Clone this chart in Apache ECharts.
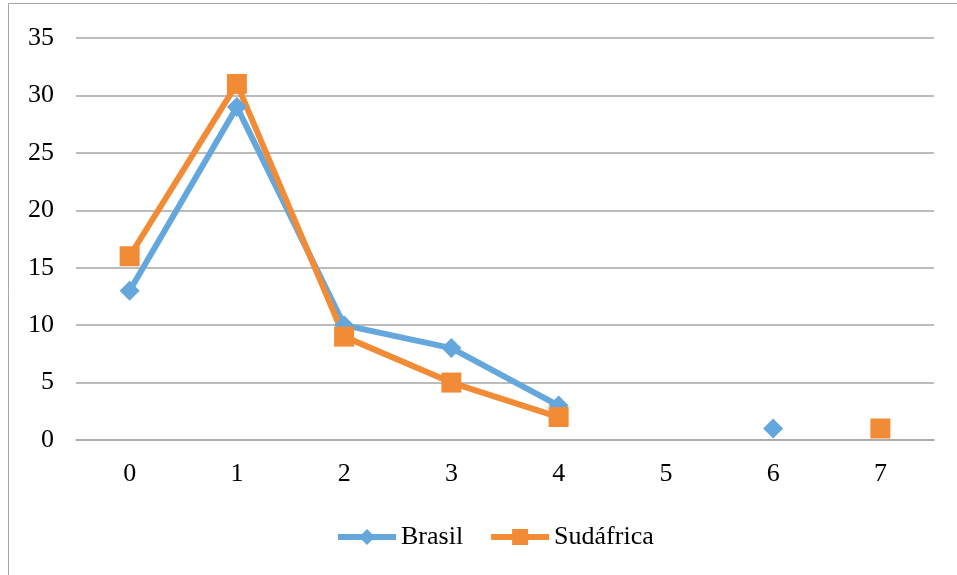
<!DOCTYPE html>
<html><head><meta charset="utf-8">
<script src="https://cdn.jsdelivr.net/npm/echarts@6/dist/echarts.min.js"></script>
<style>html,body{margin:0;padding:0;background:#fff}#c{width:957px;height:575px}</style>
</head><body><div id="c"></div>
<script>
const categories = ['0','1','2','3','4','5','6','7'];
const brasil = [13, 29, 10, 8, 3, null, 1, null];
const sudafrica = [16, 31, 9, 5, 2, null, null, 1];
const seriesNames = ['Brasil', 'Sudáfrica'];

const chart = echarts.init(document.getElementById('c'));
const font = '"Liberation Serif", "Times New Roman", serif';
chart.setOption({
  animation: false,
  graphic: [{type:'rect', shape:{x:8.5,y:3.5,width:1000,height:700}, style:{fill:'none', stroke:'#a6a6a6', lineWidth:1}}],
  grid: {left: 76, right: 23, top: 38, bottom: 135},
  legend: {
    bottom: 20, left: 330, itemWidth: 58, itemHeight: 20, itemGap: 25,
    textStyle: {fontFamily: font, fontSize: 26, color: '#000'},
    lineStyle: {width: 6},
    data: seriesNames
  },
  xAxis: {
    type: 'category', data: categories, boundaryGap: true,
    axisLine: {lineStyle: {color: '#a6a6a6', width: 1.5}},
    axisTick: {show: false},
    axisLabel: {fontFamily: font, fontSize: 26, color: '#000', margin: 21}
  },
  yAxis: {
    type: 'value', min: 0, max: 35, interval: 5,
    axisLine: {show: false}, axisTick: {show: false},
    splitLine: {lineStyle: {color: '#a6a6a6', width: 1.5}},
    axisLabel: {fontFamily: font, fontSize: 26, color: '#000', margin: 22}
  },
  series: [
    {name: seriesNames[0], type: 'line', data: brasil, connectNulls: false,
     symbol: 'diamond', symbolSize: 20, showAllSymbol: true,
     lineStyle: {color: '#64a7dd', width: 6}, itemStyle: {color: '#64a7dd'}},
    {name: seriesNames[1], type: 'line', data: sudafrica, connectNulls: false,
     symbol: 'rect', symbolSize: 20, showAllSymbol: true,
     lineStyle: {color: '#f28b36', width: 6}, itemStyle: {color: '#f28b36'}}
  ]
});
</script></body></html>
